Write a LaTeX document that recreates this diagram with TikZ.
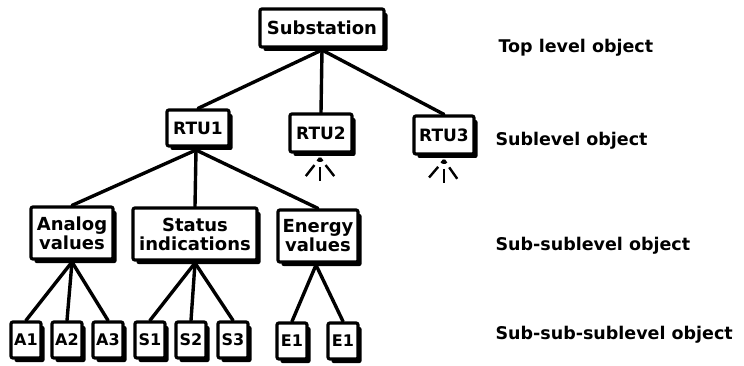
\documentclass[tikz,border=0pt]{standalone}
\usepackage{fontspec}
\setmainfont{DejaVu Sans}
\usetikzlibrary{shadows,backgrounds}
\begin{document}
\begin{tikzpicture}[x=1pt,y=-1pt,
  obj/.style={draw=black, line width=3.2pt, fill=white, rounded corners=2pt,
    inner sep=1pt, align=center, font=\bfseries\fontsize{18}{19}\selectfont,
    drop shadow={shadow xshift=3.5pt, shadow yshift=-4pt, fill=black, opacity=1}},
  rtu/.style={obj, font=\bfseries\fontsize{17}{18}\selectfont},
  leaf/.style={obj, minimum width=30pt, minimum height=36pt, font=\bfseries\fontsize{16}{17}\selectfont},
  conn/.style={line width=3.4pt, line cap=round},
  ray/.style={line width=2.4pt, dash pattern=on 4pt off 5pt on 14pt off 20pt},
  lvl/.style={anchor=west, font=\bfseries\fontsize{17.5}{19}\selectfont}]
\useasboundingbox (0,0) rectangle (744,366);
% nodes
\node[obj, minimum width=124pt, minimum height=38pt] (sub) at (322,28) {Substation};
\node[rtu, minimum width=62pt, minimum height=36pt] (rtu1) at (198,128) {RTU1};
\node[rtu, minimum width=62pt, minimum height=38pt] (rtu2) at (321,133) {RTU2};
\node[rtu, minimum width=60pt, minimum height=38pt] (rtu3) at (444,135) {RTU3};
\node[obj, minimum width=82pt, minimum height=52pt] (ana) at (72,233) {Analog\\values};
\node[obj, minimum width=124pt, minimum height=52pt] (sta) at (195,234) {Status\\indications};
\node[obj, minimum width=80pt, minimum height=52pt] (ene) at (318,236) {Energy\\values};
\node[leaf] (a1) at (26,340) {A1};
\node[leaf] (a2) at (67,340) {A2};
\node[leaf] (a3) at (108,340) {A3};
\node[leaf] (s1) at (150,340) {S1};
\node[leaf] (s2) at (191,340) {S2};
\node[leaf] (s3) at (233,340) {S3};
\node[leaf] (e1) at (292,341) {E1};
\node[leaf] (e2) at (343,341) {E1};
% level labels
\node[lvl] (l1) at (495,48) {Top level object};
\node[lvl] (l2) at (492,141) {Sublevel object};
\node[lvl] (l3) at (492,246) {Sub-sublevel object};
\node[lvl] (l4) at (492,335) {Sub-sub-sublevel object};
% connectors
\coordinate (sb) at (322,50);
\coordinate (r1b) at (196,150);
\coordinate (ab) at (72,262);
\coordinate (sbb) at (195,263);
\coordinate (eb) at (316,265);
\begin{pgfonlayer}{background}
\draw[conn] (sb) -- (rtu1.north);
\draw[conn] (sb) -- (rtu2.north);
\draw[conn] (sb) -- (rtu3.north);
\draw[conn] (r1b) -- (ana.north);
\draw[conn] (r1b) -- (sta.north);
\draw[conn] (r1b) -- (ene.north);
\draw[conn] (ab) -- (a1.north);
\draw[conn] (ab) -- (a2.north);
\draw[conn] (ab) -- (a3.north);
\draw[conn] (sbb) -- (s1.north);
\draw[conn] (sbb) -- (s2.north);
\draw[conn] (sbb) -- (s3.north);
\draw[conn] (eb) -- (e1.north);
\draw[conn] (eb) -- (e2.north);
\end{pgfonlayer}
% dashed rays
\coordinate (r2c) at (320,158);
\coordinate (r2l) at (298,186);
\coordinate (r2m) at (320,186);
\coordinate (r2r) at (342,186);
\coordinate (r3c) at (444,160);
\coordinate (r3l) at (421,187);
\coordinate (r3m) at (444,187);
\coordinate (r3r) at (463,187);
\draw[ray] (r2c) -- (r2l);
\draw[ray] (r2c) -- (r2m);
\draw[ray] (r2c) -- (r2r);
\draw[ray] (r3c) -- (r3l);
\draw[ray] (r3c) -- (r3m);
\draw[ray] (r3c) -- (r3r);
\end{tikzpicture}
\end{document}
